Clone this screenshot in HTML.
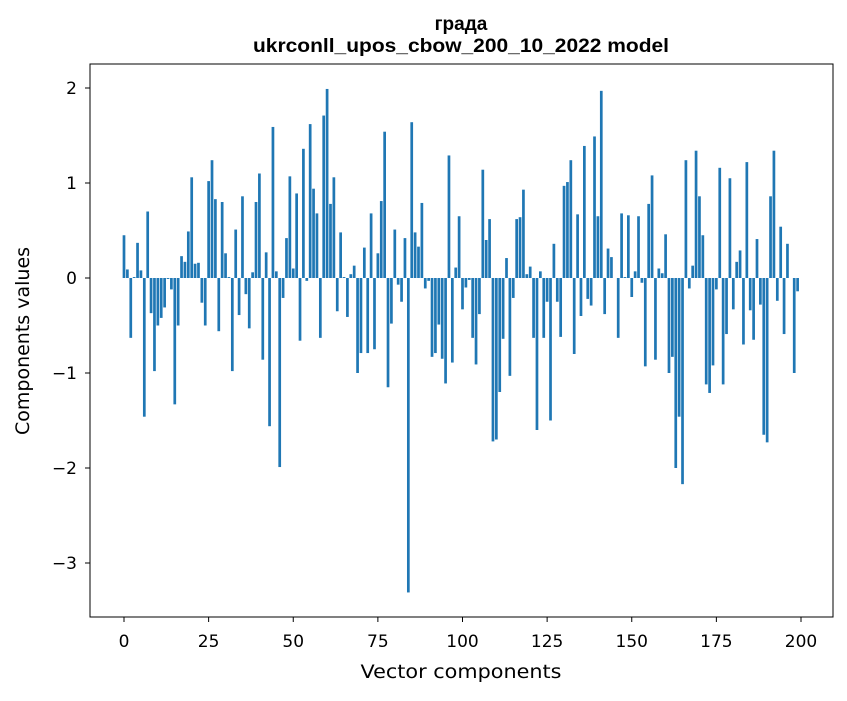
<!DOCTYPE html>
<html><head><meta charset="utf-8"><style>
body{margin:0;background:#fff;}
svg text{font-family:"DejaVu Sans","Liberation Sans",sans-serif;fill:#000;}
svg text.title{font-family:"Liberation Sans","DejaVu Sans",sans-serif;}
</style></head><body>
<svg id="chart" width="847" height="696" xmlns="http://www.w3.org/2000/svg">
<rect width="847" height="696" fill="#fff"/>
<text class="title" x="461" y="30" text-anchor="middle" font-size="19" font-weight="bold">града</text>
<text class="title" x="461" y="52" text-anchor="middle" font-size="19" font-weight="bold" textLength="416" lengthAdjust="spacingAndGlyphs">ukrconll_upos_cbow_200_10_2022 model</text>
<g id="bars"></g>
<g id="xticks"></g>
<g id="yticks"></g>
<rect x="90" y="64" width="743" height="553" fill="none" stroke="#000" stroke-width="1"/>
<text x="461" y="678" text-anchor="middle" font-size="19" textLength="201" lengthAdjust="spacingAndGlyphs">Vector components</text>
<text transform="translate(29,341) rotate(-90)" text-anchor="middle" font-size="19">Components values</text>
</svg>
<script>
const values = [0.45,0.09,-0.63,0.01,0.37,0.08,-1.46,0.70,-0.37,-0.98,-0.50,-0.42,-0.31,-0.01,-0.12,-1.33,-0.50,0.23,0.17,0.49,
1.06,0.15,0.16,-0.26,-0.50,1.02,1.24,0.83,-0.56,0.80,0.26,0.01,-0.98,0.51,-0.39,0.86,-0.17,-0.53,0.06,0.80,
1.10,-0.86,0.27,-1.56,1.59,0.07,-1.99,-0.21,0.42,1.07,0.10,0.89,-0.66,1.36,-0.03,1.62,0.94,0.68,-0.63,1.71,
1.99,0.78,1.06,-0.35,0.48,0.01,-0.41,0.04,0.13,-1.00,-0.79,0.32,-0.79,0.68,-0.75,0.26,0.81,1.54,-1.15,-0.48,
0.51,-0.07,-0.25,0.42,-3.31,1.64,0.48,0.33,0.79,-0.11,-0.03,-0.83,-0.79,-0.49,-0.85,-1.11,1.29,-0.89,0.11,0.65,
-0.33,-0.10,-0.02,-0.63,-0.91,-0.38,1.14,0.40,0.62,-1.72,-1.70,-1.20,-0.64,0.21,-1.03,-0.21,0.62,0.64,0.93,0.04,
0.12,-0.63,-1.60,0.07,-0.63,-0.25,-1.50,0.36,-0.25,-0.62,0.97,1.01,1.24,-0.80,0.67,-0.40,1.39,-0.22,-0.29,1.49,
0.65,1.97,-0.38,0.31,0.22,0.00,-0.63,0.68,0.01,0.66,-0.20,0.07,0.65,-0.05,-0.93,0.78,1.08,-0.86,0.10,0.05,
0.46,-1.00,-0.83,-2.00,-1.46,-2.17,1.24,-0.11,0.13,1.34,0.86,0.45,-1.12,-1.21,-0.92,-0.12,1.16,-1.12,-0.59,1.05,
-0.33,0.17,0.29,-0.70,1.22,-0.34,-0.65,0.41,-0.28,-1.65,-1.73,0.86,1.34,-0.24,0.54,-0.59,0.36,0.00,-1.00,-0.14];
const xTicks = [0,25,50,75,100,125,150,175,200];
const yTicks = [2,1,0,-1,-2,-3];
const yTickLabels = ["2","1","0","\u22121","\u22122","\u22123"];

const X0=124, XS=(801-124)/200;
const Y0=278, YS=95;
const xs = v => X0 + v*XS;
const ys = v => Y0 - v*YS;
const NS="http://www.w3.org/2000/svg";
const bars=document.getElementById('bars');
values.forEach((v,i)=>{
  const r=document.createElementNS(NS,'rect');
  const w=0.8*XS;
  r.setAttribute('x',xs(i)-w/2);
  r.setAttribute('y',Math.min(ys(v),ys(0)));
  r.setAttribute('width',w);
  r.setAttribute('height',Math.abs(ys(v)-ys(0)));
  r.setAttribute('fill','#1f77b4');
  
  
  bars.appendChild(r);
});
const xg=document.getElementById('xticks');
xTicks.forEach(t=>{
  const l=document.createElementNS(NS,'line');
  l.setAttribute('x1',xs(t));l.setAttribute('x2',xs(t));
  l.setAttribute('y1',617);l.setAttribute('y2',622);
  l.setAttribute('stroke','#000');
  
  
  xg.appendChild(l);
  const tx=document.createElementNS(NS,'text');
  tx.setAttribute('x',xs(t));tx.setAttribute('y',647);
  tx.setAttribute('text-anchor','middle');tx.setAttribute('font-size','17');
  tx.textContent=t;
  
  
  xg.appendChild(tx);
});
const yg=document.getElementById('yticks');
yTicks.forEach((t,k)=>{
  const l=document.createElementNS(NS,'line');
  l.setAttribute('x1',85);l.setAttribute('x2',90);
  l.setAttribute('y1',ys(t));l.setAttribute('y2',ys(t));
  l.setAttribute('stroke','#000');
  
  
  yg.appendChild(l);
  const tx=document.createElementNS(NS,'text');
  tx.setAttribute('x',77);tx.setAttribute('y',ys(t)+6);
  tx.setAttribute('text-anchor','end');tx.setAttribute('font-size','17');
  tx.textContent=yTickLabels[k];
  
  
  yg.appendChild(tx);
});
</script>
</body></html>
